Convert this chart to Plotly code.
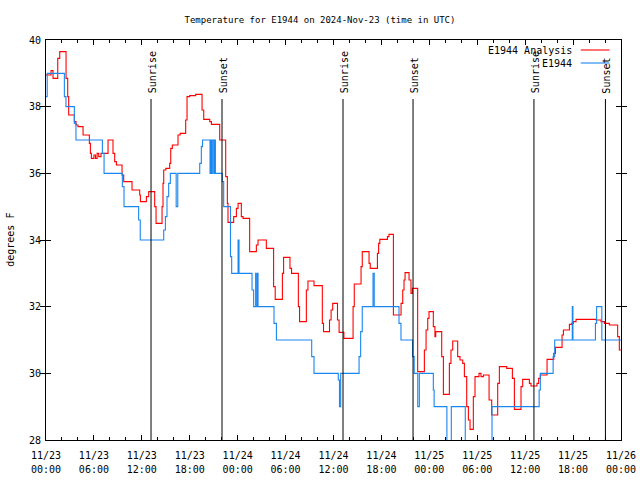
import pandas as pd
import plotly.graph_objects as go

BASE = pd.Timestamp("2024-11-23 00:00")

# Observed E1944 (hours since 11/23 00:00 UTC, degrees F), step series
obs_hours = [0.0, 0.15, 2.3, 2.5, 3.55, 3.75, 7.06, 7.27, 9.56, 9.77, 11.6, 11.8,
             14.74, 14.95, 15.15, 15.36, 15.57, 16.3, 16.5, 19.25, 19.45, 19.6,
             20.54, 20.62, 20.75, 20.83, 21.0, 21.08, 21.21, 22.07, 22.25, 23.1, 23.25,
             24.05, 24.17, 25.8, 26.0, 26.25, 26.32, 26.47, 26.55, 28.55, 28.85,
             33.27, 33.56, 36.6, 36.75, 36.9, 39.2, 39.4, 39.6, 40.95, 41.1, 44.2, 44.45,
             45.9, 46.1, 46.55, 46.75, 48.5, 48.6, 50.2, 50.75, 52.5, 55.85,
             61.75, 61.9, 63.5, 63.7, 65.9, 65.98, 68.8, 68.95, 69.6, 72.0]
obs_vals = [38.3, 39.0, 38.3, 38.0, 37.5, 37.0, 36.6, 36.0, 35.6, 35.0, 34.6, 34.0,
            34.3, 34.7, 35.3, 35.7, 36.0, 35.0, 36.0, 36.3, 36.8, 37.0,
            36.0, 37.0, 36.0, 37.0, 36.0, 37.0, 36.0, 35.75, 35.0, 33.5, 33.0,
            34.0, 33.0, 32.5, 32.0, 33.0, 32.0, 33.0, 32.0, 31.5, 31.0,
            30.5, 30.0, 29.8, 29.0, 30.0, 30.5, 31.25, 32.0, 33.0, 32.0, 31.5, 31.0,
            30.5, 30.0, 29.0, 30.0, 29.5, 29.0, 27.5, 29.0, 27.5, 29.0,
            29.5, 30.0, 30.5, 31.0, 32.0, 31.0, 31.5, 32.0, 31.0, 31.0]

# E1944 Analysis (hours since 11/23 00:00 UTC, degrees F), step series
ana_hours = [0.0, 0.63, 0.88, 1.47, 1.72, 2.51, 2.72, 2.84, 3.55, 3.76, 4.01, 4.64,
             5.43, 5.56, 5.68, 6.0, 6.2, 6.4, 6.6, 6.89, 7.77, 8.39, 8.6, 8.81,
             9.52, 9.73, 10.77, 11.73, 11.82, 12.57, 12.86, 13.61, 13.78, 14.53,
             14.65, 14.74, 15.0, 15.49, 15.62, 15.82, 16.53, 16.8, 17.49, 17.66,
             17.99, 18.74, 19.54, 19.75, 20.5, 20.71, 21.75, 22.5, 22.71, 22.79,
             23.5, 23.84, 24.05, 24.46, 24.67, 25.5, 26.34, 26.55, 27.59, 28.5,
             28.7, 29.6, 29.75, 30.55, 30.75, 31.6, 31.75, 32.6, 32.8, 33.56,
             34.6, 34.75, 35.5, 35.7, 35.9, 36.5, 36.7, 37.3, 38.45, 38.6, 39.45,
             39.6, 40.45, 40.6, 41.5, 41.65, 41.8, 42.75, 42.95, 43.5, 44.46,
             44.67, 44.83, 44.96, 45.46, 45.7, 45.88, 46.54, 47.38, 47.59, 47.8,
             47.96, 48.5, 48.7, 48.8, 49.55, 49.76, 50.51, 50.71, 50.93, 51.55,
             51.84, 52.18, 52.39, 52.68, 52.89, 53.1, 53.51, 53.72, 54.22, 54.47,
             54.77, 55.48, 55.81, 56.56, 56.77, 57.69, 58.4, 58.65, 59.48, 59.69,
             60.53, 60.73, 61.48, 61.69, 61.9, 62.74, 63.58, 63.79, 64.62, 64.79,
             65.54, 65.83, 66.04, 66.37, 68.87, 69.5, 69.92, 70.54, 71.58, 71.79, 72.0]
ana_vals = [38.95, 39.08, 38.85, 39.45, 39.65, 38.85, 38.3, 37.75, 37.55, 37.45, 37.4, 37.15,
            36.9, 36.6, 36.45, 36.55, 36.45, 36.6, 36.5, 36.6, 37.0, 36.6, 36.35, 36.25,
            35.95, 35.75, 35.5, 35.35, 35.15, 35.3, 35.45, 35.0, 34.5, 35.0,
            35.7, 36.1, 36.15, 36.3, 36.75, 36.85, 37.15, 37.2, 37.6, 38.3,
            38.33, 38.37, 37.9, 37.62, 37.55, 37.47, 37.0, 35.9, 35.1, 34.53,
            34.7, 34.95, 35.1, 34.7, 34.65, 33.65, 33.85, 34.0, 33.75, 32.6,
            32.22, 33.0, 33.48, 33.15, 33.0, 32.0, 31.55, 32.5, 32.77, 32.63,
            31.5, 31.25, 31.6, 31.9, 32.1, 31.6, 31.23, 31.05, 32.0, 32.68, 33.2,
            33.65, 33.3, 33.15, 33.6, 33.9, 34.02, 34.1, 34.17, 31.75, 32.1,
            32.5, 32.8, 33.02, 32.8, 32.4, 32.55, 30.05, 30.7, 31.3, 31.65,
            31.85, 31.4, 31.1, 31.25, 30.5, 29.37, 30.3, 30.7, 30.97, 30.5,
            30.4, 30.3, 29.9, 29.0, 28.6, 28.32, 29.3, 29.9, 30.0, 29.9,
            29.95, 29.2, 28.75, 29.7, 30.2, 30.15, 29.85, 28.92, 29.6, 29.82,
            29.7, 29.62, 29.7, 29.85, 29.95, 30.42, 30.6, 30.78, 31.15, 31.3,
            31.47, 31.5, 31.55, 31.62, 31.6, 31.55, 31.5, 31.45, 31.1, 30.7, 30.7]

# Sun events (hours since 11/23 00:00 UTC)
event_hours = [13.15, 22.04, 37.19, 45.96, 61.1, 70.05]
event_labels = ["Sunrise", "Sunset", "Sunrise", "Sunset", "Sunrise", "Sunset"]

FONT = "DejaVu Sans Mono"
RED = "#ff0000"
BLUE = "#1a86f0"
X_RANGE = [BASE, BASE + pd.Timedelta(hours=72)]


def to_time(hours):
    return [BASE + pd.Timedelta(hours=h) for h in hours]


fig = go.Figure()
fig.add_trace(go.Scatter(x=to_time(ana_hours), y=ana_vals, mode="lines",
                         line=dict(color=RED, width=1.1, shape="hv"),
                         name="E1944 Analysis", showlegend=False))
fig.add_trace(go.Scatter(x=to_time(obs_hours), y=obs_vals, mode="lines", xaxis="x2",
                         line=dict(color=BLUE, width=1.1, shape="hv"),
                         name="E1944", showlegend=False))

for h, lab in zip(event_hours, event_labels):
    t = BASE + pd.Timedelta(hours=h)
    fig.add_shape(type="line", xref="x", yref="paper", x0=t, x1=t, y0=0, y1=0.8525,
                  line=dict(color="black", width=1))
    fig.add_annotation(x=t, xref="x", y=0.862, yref="paper", text=lab, textangle=-90,
                       showarrow=False, xanchor="center", yanchor="bottom", xshift=1,
                       font=dict(family=FONT, size=10, color="black"))

# legend (gnuplot style: text right-aligned, sample line to the right)
leg = [("E1944 Analysis", RED, 0.975), ("E1944", BLUE, 0.9425)]
for name, col, yy in leg:
    fig.add_annotation(x=0.9177, xref="paper", y=yy, yref="paper", text=name,
                       showarrow=False, xanchor="right", yanchor="middle",
                       font=dict(family=FONT, size=10, color="black"))
    fig.add_shape(type="line", xref="paper", yref="paper", x0=0.93, x1=0.98,
                  y0=yy, y1=yy, line=dict(color=col, width=1.1))

fig.add_annotation(x=-0.063, xref="paper", y=0.5, yref="paper", text="degrees F",
                   textangle=-90, showarrow=False, xanchor="center", yanchor="middle",
                   font=dict(family=FONT, size=10, color="black"))

fig.update_layout(
    width=640, height=480, autosize=False,
    margin=dict(l=46, r=19, t=40, b=40, autoexpand=False),
    paper_bgcolor="white", plot_bgcolor="white",
    font=dict(family=FONT, size=10, color="black"),
    title=dict(text="Temperature for E1944 on 2024-Nov-23 (time in UTC)",
               x=0.5, xref="container", xanchor="center", y=1 - 20 / 480,
               yanchor="middle", font=dict(family=FONT, size=9, color="black")),
    showlegend=False,
    xaxis=dict(
        type="date", range=X_RANGE, tick0=BASE, dtick=6 * 3600 * 1000,
        tickformat="%m/%d", ticklabelstandoff=6, automargin=False,
        ticks="inside", ticklen=5, tickcolor="black",
        minor=dict(dtick=2 * 3600 * 1000, ticks="inside", ticklen=3, tickcolor="black"),
        showline=True, linecolor="black", linewidth=1, mirror="allticks",
        showgrid=False, zeroline=False,
        tickfont=dict(family=FONT, size=10, color="black"),
    ),
    xaxis2=dict(
        type="date", range=X_RANGE, tick0=BASE, dtick=6 * 3600 * 1000,
        overlaying="x", anchor="y", side="bottom", automargin=False,
        tickformat="%H:%M", ticklabelstandoff=22, ticks="",
        showline=False, showgrid=False, zeroline=False,
        tickfont=dict(family=FONT, size=10, color="black"),
    ),
    yaxis=dict(
        range=[28, 40], dtick=2, tick0=28, ticklabelstandoff=2, automargin=False,
        ticks="inside", ticklen=5, tickcolor="black",
        showline=True, linecolor="black", linewidth=1, mirror="allticks",
        showgrid=False, zeroline=False,
        tickfont=dict(family=FONT, size=10, color="black"),
    ),
)

fig.write_html(
    "out.html",
    config={"displayModeBar": False},
    post_script="document.body.style.margin='0';",
)
